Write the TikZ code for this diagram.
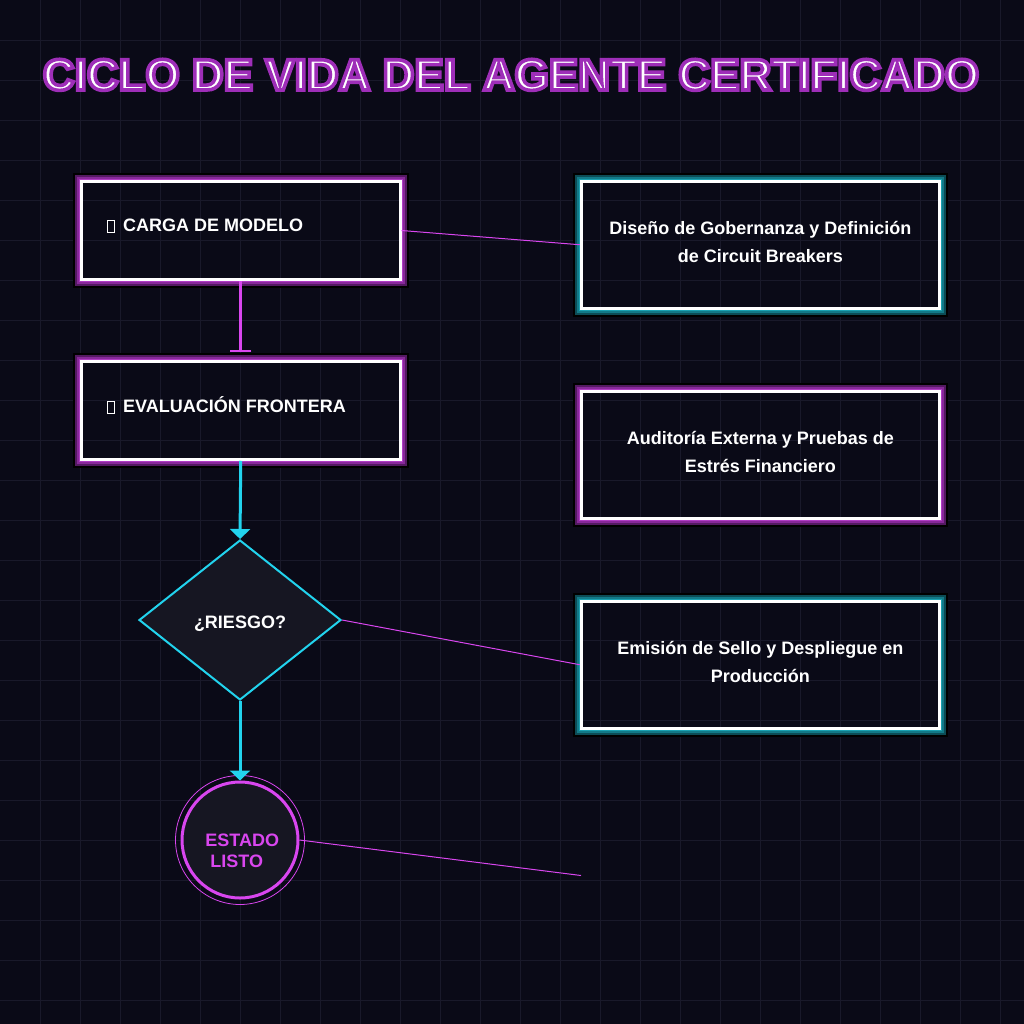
\documentclass[tikz,border=0pt]{standalone}
\usepackage{fontspec}
\setmainfont{Liberation Sans}
\usetikzlibrary{arrows.meta,shapes.geometric}

\definecolor{bgc}{RGB}{10,10,23}
\definecolor{gridc}{RGB}{25,25,42}
\definecolor{shapefill}{RGB}{22,22,34}
\definecolor{mag}{RGB}{217,70,239}
\definecolor{cyn}{RGB}{34,211,238}
\definecolor{pglowA}{RGB}{176,60,196}
\definecolor{pglowB}{RGB}{136,40,154}
\definecolor{pglowC}{RGB}{84,26,98}
\definecolor{tglowA}{RGB}{26,160,176}
\definecolor{tglowB}{RGB}{18,122,136}
\definecolor{tglowC}{RGB}{12,76,86}

\newcommand\outlinedtext[1]{\special{pdf:literal direct 2 Tr 3.6 w 0.62 0.18 0.72 RG}#1\special{pdf:literal direct 0 Tr}}
\newcommand\tofu{{\setlength\fboxsep{0pt}\setlength\fboxrule{1pt}\fbox{\rule{0pt}{11pt}\hspace{6pt}}}}
\newcommand\upline[1]{\raisebox{3pt}[\height][\depth]{#1}}

\newcommand\glowframe[4]{%
  \draw[black, line width=2pt] ([shift={(-6.1pt,6.1pt)}]#1.north west) rectangle ([shift={(6.1pt,-6.1pt)}]#1.south east);
  \draw[#4, line width=2pt] ([shift={(-4.1pt,4.1pt)}]#1.north west) rectangle ([shift={(4.1pt,-4.1pt)}]#1.south east);
  \draw[#3, line width=2pt] ([shift={(-2.1pt,2.1pt)}]#1.north west) rectangle ([shift={(2.1pt,-2.1pt)}]#1.south east);
  \draw[#2, line width=1.2pt] ([shift={(-0.6pt,0.6pt)}]#1.north west) rectangle ([shift={(0.6pt,-0.6pt)}]#1.south east);
}

\tikzset{
  boxbase/.style={draw=white, line width=3pt, inner sep=0pt},
  lbox/.style={boxbase, minimum width=318.5pt, minimum height=98pt},
  rbox/.style={boxbase, minimum width=358pt, minimum height=126.5pt, text=white,
    font=\fontsize{18}{28}\selectfont\bfseries, align=center},
  ltext/.style={anchor=base west, inner sep=0pt, text=white, font=\fontsize{18}{21}\selectfont\bfseries},
  thinlink/.style={mag, line width=1pt},
  flowarrow/.style={cyn, line width=3pt, -{Triangle[width=20pt,length=10pt]}},
}

\begin{document}
\begin{tikzpicture}[x=1pt,y=-1pt]
  \fill[bgc] (0,0) rectangle (1024,1024);
  \useasboundingbox (0,0) rectangle (1024,1024);
  \foreach \g in {40,80,...,1000} {
    \draw[gridc, line width=1pt] (\g+0.5,0) -- (\g+0.5,1024);
    \draw[gridc, line width=1pt] (0,\g+0.5) -- (1024,\g+0.5);
  }

  % title
  \node[anchor=base, inner sep=0pt, text=white, font=\fontsize{44}{50}\selectfont\bfseries] (title) at (511,90)
    {\outlinedtext{CICLO DE VIDA DEL AGENTE CERTIFICADO}};

  % left column
  \node[lbox] (load) at (240.75,230.5) {};
  \node[lbox] (eval) at (240.75,410.25) {};
  \glowframe{load}{pglowA}{pglowB}{pglowC}
  \glowframe{eval}{pglowA}{pglowB}{pglowC}
  \node[ltext] (loadtxt) at (107,232) {\tofu\hspace{8pt}CARGA DE MODELO};
  \node[ltext] (evaltxt) at (107,412.5) {\tofu\hspace{8pt}EVALUACIÓN FRONTERA};

  \node[diamond, draw=cyn, line width=2pt, fill=shapefill, minimum width=202pt, minimum height=160pt,
        aspect=1.2625, inner sep=0pt, text=white, font=\fontsize{18}{21}\selectfont\bfseries] (risk) at (240,620)
        {\raisebox{-3.5pt}[\height][\depth]{¿RIESGO?}};

  \node[circle, draw=mag, line width=3pt, fill=shapefill, minimum size=116pt, inner sep=0pt] (ready) at (240,840) {};
  \draw[mag, line width=0.8pt] (ready.center) circle[radius=64.5];
  \node[text=mag, align=left, inner sep=0pt, font=\fontsize{18}{21}\selectfont\bfseries] (readytxt) at (242.3,851)
    {ESTADO\\\hspace*{5pt}LISTO};

  % right column
  \node[rbox] (gov) at (760.4,244.75) {\upline{Diseño de Gobernanza y Definición}\\\upline{de Circuit Breakers}};
  \node[rbox] (audit) at (760.4,454.75) {\upline{Auditoría Externa y Pruebas de}\\\upline{Estrés Financiero}};
  \node[rbox] (seal) at (760.4,664.75) {\upline{Emisión de Sello y Despliegue en}\\\upline{Producción}};
  \glowframe{gov}{tglowA}{tglowB}{tglowC}
  \glowframe{audit}{pglowA}{pglowB}{pglowC}
  \glowframe{seal}{tglowA}{tglowB}{tglowC}
  \coordinate (deploy) at (581,875.5);

  % connectors
  \draw[mag, line width=3pt, -{Bar[width=21pt,line width=2pt]}, shorten >=8pt] (load.south) -- (eval.north);
  \draw[flowarrow] (eval.south) -- (risk.north);
  \draw[flowarrow] (risk.south) -- (ready.north);
  \draw[thinlink] (load.east) -- (gov.west);
  \draw[thinlink] (risk.east) -- (seal.west);
  \draw[thinlink] (ready.east) -- (deploy);
\end{tikzpicture}
\end{document}
